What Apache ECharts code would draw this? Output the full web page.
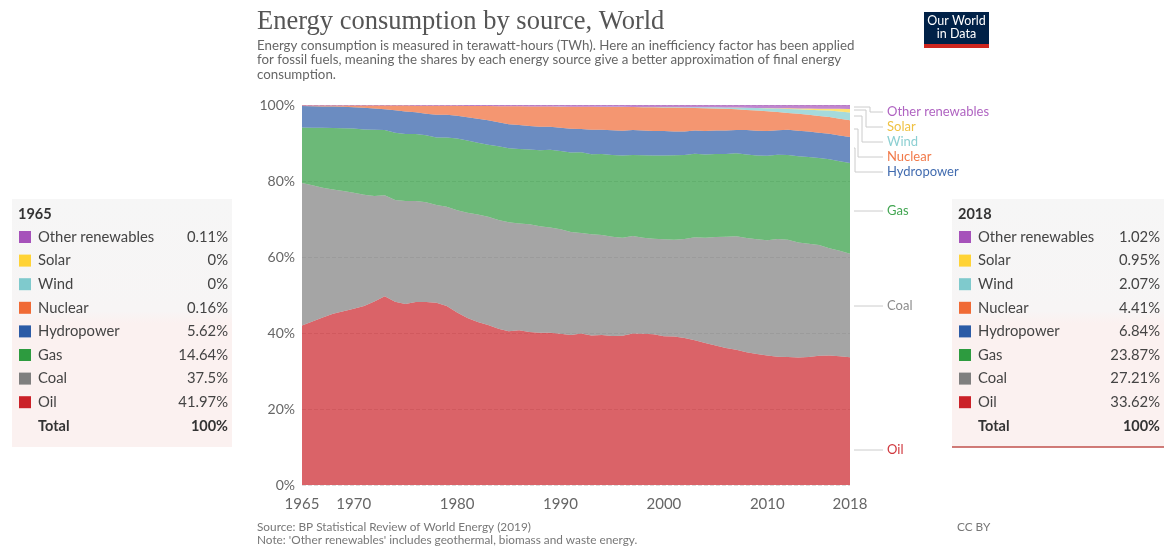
<!DOCTYPE html>
<html>
<head>
<meta charset="utf-8">
<script src="https://cdn.jsdelivr.net/npm/echarts@6/dist/echarts.min.js"></script>
<style>
  html, body { margin: 0; padding: 0; background: #fff; }
  #chart { width: 1164px; height: 548px; }
</style>
</head>
<body>
<div id="chart"></div>
<script>
// years on the x axis
var years = [];
for (var y = 1965; y <= 2018; y++) years.push(String(y));

var xTickYears = ['1965', '1970', '1980', '1990', '2000', '2010', '2018'];
var yTicks = [0, 20, 40, 60, 80, 100];

// shares of primary energy, %
var oil = [41.97, 43.0, 44.0, 45.0, 45.6, 46.3, 47.1, 48.3, 49.6, 48.2,
  47.7, 48.1, 48.2, 48.0, 47.1, 45.3, 43.8, 42.7, 41.9, 40.9,
  40.3, 40.6, 40.1, 39.9, 39.8, 39.6, 39.3, 39.6, 39.2, 39.2,
  39.0, 39.1, 39.6, 39.6, 39.5, 39.0, 38.9, 38.5, 37.9, 37.4,
  36.7, 36.1, 35.5, 34.9, 34.4, 34.0, 33.6, 33.5, 33.4, 33.5,
  33.8, 33.9, 33.8, 33.62];
var coal = [37.5, 35.9, 34.1, 32.6, 31.6, 30.5, 29.3, 27.8, 26.6, 26.8,
  27.1, 26.6, 26.3, 25.8, 26.1, 26.8, 27.6, 28.1, 28.3, 28.4,
  28.6, 28.0, 28.2, 27.9, 27.5, 27.3, 27.0, 26.2, 26.5, 26.1,
  26.0, 25.7, 25.5, 25.1, 25.0, 25.4, 25.3, 25.9, 27.0, 27.7,
  28.6, 29.3, 29.8, 30.0, 30.2, 30.3, 30.9, 30.7, 30.2, 29.7,
  29.0, 28.1, 27.7, 27.21];
var gas = [14.64, 15.1, 15.8, 16.2, 16.5, 16.9, 17.2, 17.4, 17.1, 17.7,
  17.7, 17.6, 17.6, 17.8, 18.2, 18.8, 18.9, 18.8, 18.9, 19.3,
  19.4, 19.5, 19.6, 19.9, 20.3, 20.5, 20.8, 21.1, 21.0, 21.2,
  21.4, 21.6, 21.2, 21.6, 21.8, 22.0, 22.1, 22.0, 21.9, 21.9,
  21.8, 21.8, 21.8, 22.0, 22.0, 22.2, 22.1, 22.2, 22.6, 22.7,
  22.8, 23.3, 23.5, 23.87];
var hydro = [5.62, 5.7, 5.6, 5.6, 5.6, 5.6, 5.7, 5.6, 5.5, 5.9,
  5.9, 5.7, 5.7, 6.0, 6.0, 6.0, 6.1, 6.3, 6.4, 6.3,
  6.3, 6.3, 6.2, 6.2, 6.0, 6.1, 6.2, 6.1, 6.4, 6.3,
  6.5, 6.5, 6.5, 6.5, 6.4, 6.4, 6.2, 6.2, 6.1, 6.2,
  6.2, 6.2, 6.1, 6.4, 6.5, 6.5, 6.4, 6.6, 6.7, 6.7,
  6.6, 6.7, 6.8, 6.84];
var nuclear = [0.16, 0.2, 0.25, 0.3, 0.35, 0.45, 0.6, 0.8, 0.95, 1.25,
  1.55, 1.75, 2.1, 2.35, 2.35, 2.6, 3.0, 3.3, 3.7, 4.2,
  4.7, 4.9, 5.1, 5.3, 5.3, 5.5, 5.8, 5.8, 6.0, 6.0,
  6.1, 6.2, 6.0, 6.1, 6.2, 6.2, 6.3, 6.2, 5.9, 6.0,
  5.8, 5.7, 5.4, 5.3, 5.3, 5.2, 4.8, 4.4, 4.4, 4.4,
  4.4, 4.4, 4.4, 4.41];
var wind = [0, 0, 0, 0, 0, 0, 0, 0, 0, 0,
  0, 0, 0, 0, 0, 0, 0, 0, 0, 0,
  0, 0, 0, 0, 0, 0.01, 0.01, 0.01, 0.02, 0.02,
  0.03, 0.04, 0.05, 0.06, 0.08, 0.1, 0.12, 0.16, 0.2, 0.25,
  0.3, 0.36, 0.45, 0.55, 0.65, 0.8, 0.9, 1.05, 1.2, 1.3,
  1.5, 1.65, 1.9, 2.07];
var solar = [0, 0, 0, 0, 0, 0, 0, 0, 0, 0,
  0, 0, 0, 0, 0, 0, 0, 0, 0, 0,
  0, 0, 0, 0, 0, 0, 0, 0, 0, 0,
  0, 0, 0, 0, 0, 0, 0, 0, 0, 0,
  0, 0.01, 0.01, 0.02, 0.03, 0.05, 0.11, 0.16, 0.22, 0.3,
  0.4, 0.5, 0.7, 0.95];
var otherRen = [0.11, 0.11, 0.12, 0.12, 0.13, 0.13, 0.14, 0.14, 0.15, 0.15,
  0.16, 0.17, 0.18, 0.19, 0.2, 0.22, 0.24, 0.27, 0.29, 0.31,
  0.33, 0.35, 0.37, 0.39, 0.41, 0.42, 0.43, 0.45, 0.46, 0.47,
  0.48, 0.49, 0.5, 0.51, 0.52, 0.53, 0.54, 0.56, 0.58, 0.6,
  0.62, 0.65, 0.68, 0.72, 0.76, 0.8, 0.83, 0.87, 0.9, 0.93,
  0.95, 0.97, 1.0, 1.02];

// bottom to top
var sources = [
  { name: 'Oil', data: oil, color: '#CB2128' },
  { name: 'Coal', data: coal, color: '#7F7F7F' },
  { name: 'Gas', data: gas, color: '#2D9B3F' },
  { name: 'Hydropower', data: hydro, color: '#2C5BA6' },
  { name: 'Nuclear', data: nuclear, color: '#F06A35' },
  { name: 'Wind', data: wind, color: '#7FCACD' },
  { name: 'Solar', data: solar, color: '#FFD336' },
  { name: 'Other renewables', data: otherRen, color: '#A652BA' }
];
var labelColors = { 'Solar': '#EDBA2E' };

// relative mode: each year normalised to 100%
var totals = years.map(function (yr, i) {
  var s = 0;
  sources.forEach(function (src) { s += src.data[i]; });
  return s;
});

var chart = echarts.init(document.getElementById('chart'));

var series = sources.map(function (src) {
  return {
    name: src.name,
    type: 'line',
    stack: 'total',
    symbol: 'none',
    lineStyle: { width: 0 },
    areaStyle: { color: src.color, opacity: 0.7 },
    itemStyle: { color: src.color },
    data: src.data.map(function (v, i) { return v / totals[i] * 100; })
  };
});

var FONT = 'Lato, "Noto Sans", sans-serif';
var graphic = [];

// title, subtitle, logo, footer
graphic.push({ type: 'text', left: 257, top: 9, style: { text: 'Energy consumption by source, World', font: '26.5px "Liberation Serif", serif', fill: '#555' } });
graphic.push({ type: 'text', left: 257, top: 38, style: {
  text: 'Energy consumption is measured in terawatt-hours (TWh). Here an inefficiency factor has been applied\nfor fossil fuels, meaning the shares by each energy source give a better approximation of final energy\nconsumption.',
  font: '13.3px ' + FONT, fill: '#666', lineHeight: 14.5 } });
graphic.push({ type: 'rect', shape: { x: 924, y: 12, width: 65, height: 32 }, style: { fill: '#002147' } });
graphic.push({ type: 'rect', shape: { x: 924, y: 44, width: 65, height: 4 }, style: { fill: '#CE261E' } });
graphic.push({ type: 'text', x: 956.5, y: 14, style: { text: 'Our World\nin Data', font: '12.5px ' + FONT, fill: '#fff', align: 'center', lineHeight: 13.5 } });
graphic.push({ type: 'text', left: 257, top: 521, style: {
  text: "Source: BP Statistical Review of World Energy (2019)\nNote: 'Other renewables' includes geothermal, biomass and waste energy.",
  font: '11.8px ' + FONT, fill: '#777', lineHeight: 12.5 } });
graphic.push({ type: 'text', left: 957, top: 521, style: { text: 'CC BY', font: '11.8px ' + FONT, fill: '#777' } });

// right-hand labels with connectors: [name, yStart, elbowX, yLabel]
var rightLabels = [
  ['Other renewables', 107, 870, 112],
  ['Solar', 110, 866, 127],
  ['Wind', 116, 862, 142],
  ['Nuclear', 129, 858, 157],
  ['Hydropower', 148, 855, 172],
  ['Gas', 211, 868, 211],
  ['Coal', 306, 868, 306],
  ['Oil', 450, 868, 450]
];
rightLabels.forEach(function (r) {
  var src = sources.filter(function (s) { return s.name === r[0]; })[0];
  graphic.push({ type: 'polyline', shape: { points: [[854, r[1]], [r[2], r[1]], [r[2], r[3]], [883, r[3]]] },
    style: { stroke: '#ccc', lineWidth: 1, fill: null } });
  graphic.push({ type: 'text', x: 887, y: r[3], style: { text: r[0], font: '13px ' + FONT, fill: labelColors[r[0]] || src.color, verticalAlign: 'middle', opacity: 0.9 } });
});

// the two value tables
function fmt(v) { return String(v) + '%'; }
function table(x0, y0, w, h, idx, bottomLine) {
  graphic.push({ type: 'rect', shape: { x: x0, y: y0, width: w, height: h },
    style: { fill: new echarts.graphic.LinearGradient(0, 0, 0, 1, [
      { offset: 0, color: '#F6F6F6' }, { offset: 0.45, color: '#F7F5F5' }, { offset: 0.5, color: '#FBF1F0' }, { offset: 1, color: '#FBF1F0' }]) } });
  if (bottomLine) {
    graphic.push({ type: 'line', shape: { x1: x0, y1: y0 + h, x2: x0 + w, y2: y0 + h }, style: { stroke: '#C0504D', lineWidth: 1.5 } });
  }
  graphic.push({ type: 'text', x: x0 + 6, y: y0 + 15, style: { text: years[idx], font: 'bold 14.5px ' + FONT, fill: '#333', verticalAlign: 'middle' } });
  var list = sources.slice().reverse();
  list.forEach(function (src, k) {
    var yy = y0 + 38 + k * 23.6;
    graphic.push({ type: 'rect', shape: { x: x0 + 7, y: yy - 6, width: 12, height: 12 }, style: { fill: src.color } });
    graphic.push({ type: 'text', x: x0 + 26, y: yy, style: { text: src.name, font: '14.8px ' + FONT, fill: '#444', verticalAlign: 'middle' } });
    graphic.push({ type: 'text', x: x0 + w - 4, y: yy, style: { text: fmt(src.data[idx]), font: '14.8px ' + FONT, fill: '#444', align: 'right', verticalAlign: 'middle' } });
  });
  var ty = y0 + 38 + 8 * 23.6 + 1;
  graphic.push({ type: 'text', x: x0 + 26, y: ty, style: { text: 'Total', font: 'bold 14.5px ' + FONT, fill: '#333', verticalAlign: 'middle' } });
  graphic.push({ type: 'text', x: x0 + w - 4, y: ty, style: { text: '100%', font: 'bold 14.5px ' + FONT, fill: '#333', align: 'right', verticalAlign: 'middle' } });
}
table(12, 199, 220, 248, 0, false);
table(952, 199, 212, 248, years.length - 1, true);

chart.setOption({
  animation: false,
  grid: { left: 302, right: 314, top: 105, bottom: 63 },
  xAxis: {
    type: 'category',
    data: years,
    boundaryGap: false,
    axisLine: { show: false },
    axisTick: { show: false },
    axisLabel: {
      interval: function (i, v) { return xTickYears.indexOf(v) >= 0; },
      color: '#666', fontSize: 15, fontFamily: 'Lato', margin: 12
    },
    splitLine: { show: false }
  },
  yAxis: {
    type: 'value',
    min: yTicks[0],
    max: yTicks[yTicks.length - 1],
    interval: 20,
    axisLine: { show: false },
    axisTick: { show: false },
    axisLabel: { formatter: '{value}%', color: '#666', fontSize: 14, fontFamily: 'Lato', margin: 7 },
    splitLine: { lineStyle: { color: '#ddd', type: 'dashed' } }
  },
  series: series,
  graphic: graphic
});
</script>
</body>
</html>
